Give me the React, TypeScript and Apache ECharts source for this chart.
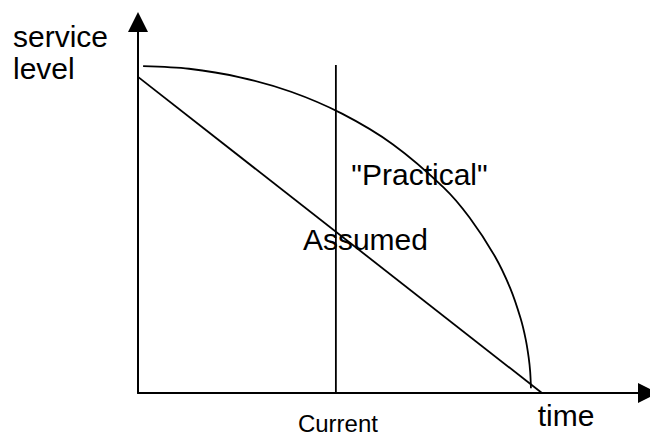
import React, { useEffect, useRef } from 'react';
import * as echarts from 'echarts';

// Straight "Assumed" decline
const assumedX = [0, 79.2];
const assumedY = [85.2, 0];
// Curved "Practical" decline
const practicalX = [1, 10, 20, 30, 40, 50, 60, 65, 70, 73, 75, 76, 76.6, 76.9, 77.05];
const practicalY = [88.1, 87.4, 85.1, 81.2, 75.3, 67.0, 55.3, 47.3, 36.8, 28.2, 20.2, 14.6, 9.6, 5.7, 1.3];
// "Current" vertical marker
const currentX = [38.8, 38.8];
const currentY = [0, 88.4];
// Annotations
const noteLabels = ['"Practical"', 'Assumed', 'Current'];
const noteX = [55.2, 44.6, 39.2];
const noteY = [59.0, 41.3, -8.3];
const noteSizes = [30, 30, 24];
// Axis titles
const axisTitles = ['service', 'level', 'time'];

const FONT = '"Liberation Sans", Arial, sans-serif';

export default function App() {
  const ref = useRef<HTMLDivElement>(null);
  useEffect(() => {
    if (!ref.current) return;
    const chart = echarts.init(ref.current, null, { renderer: 'svg' });
    const zip = (xs: number[], ys: number[]) => xs.map((x, i) => [x, ys[i]]);
    const axisCommon = {
      type: 'value' as const,
      min: 0,
      max: 100,
      axisLine: {
        show: true,
        onZero: false,
        symbol: ['none', 'triangle'],
        symbolSize: [20, 20],
        lineStyle: { color: '#000', width: 2 },
      },
      axisTick: { show: false },
      axisLabel: { show: false },
      splitLine: { show: false },
    };
    const lineStyle = { color: '#000', width: 1.8 };
    chart.setOption({
      animation: false,
      backgroundColor: '#fff',
      grid: { left: 138, top: 22, width: 510, height: 371 },
      xAxis: axisCommon,
      yAxis: axisCommon,
      graphic: [
        { type: 'text', x: 13, y: 36.6, style: { text: axisTitles[0], font: `30px ${FONT}`, fill: '#000', textAlign: 'left', textVerticalAlign: 'middle' } },
        { type: 'text', x: 13, y: 68.6, style: { text: axisTitles[1], font: `30px ${FONT}`, fill: '#000', textAlign: 'left', textVerticalAlign: 'middle' } },
        { type: 'text', x: 566, y: 415.6, style: { text: axisTitles[2], font: `30px ${FONT}`, fill: '#000', textAlign: 'center', textVerticalAlign: 'middle' } },
      ],
      series: [
        {
          type: 'line',
          name: 'Assumed',
          data: zip(assumedX, assumedY),
          showSymbol: false,
          lineStyle,
        },
        {
          type: 'line',
          name: 'Practical',
          data: zip(practicalX, practicalY),
          showSymbol: false,
          smooth: 0.3,
          lineStyle,
        },
        {
          type: 'line',
          name: 'Current',
          data: zip(currentX, currentY),
          showSymbol: false,
          lineStyle,
        },
        {
          type: 'scatter',
          name: 'notes',
          clip: false,
          symbolSize: 1,
          itemStyle: { color: 'rgba(0,0,0,0)', opacity: 1 },
          data: noteLabels.map((n, i) => ({
            name: n,
            value: [noteX[i], noteY[i]],
            label: {
              show: true,
              position: 'inside',
              formatter: n,
              fontSize: noteSizes[i],
              fontFamily: FONT,
              color: '#000',
            },
          })),
        },
      ],
    });
    return () => chart.dispose();
  }, []);
  return <div ref={ref} style={{ position: 'absolute', left: 0, top: 0, width: 650, height: 438 }} />;
}
